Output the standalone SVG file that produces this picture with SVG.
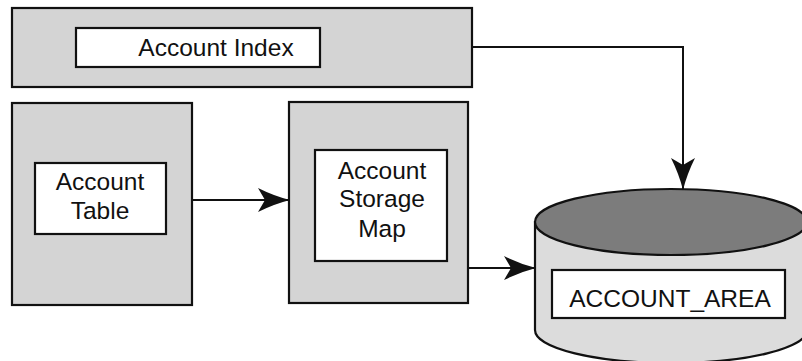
<svg xmlns="http://www.w3.org/2000/svg" width="802" height="361" viewBox="0 0 802 361">
  <style>
    .panel { fill: #d4d4d4; stroke: #111; stroke-width: 2.2; }
    .label { fill: #fff; stroke: #111; stroke-width: 2.2; }
    .txt { font-family: "Liberation Sans", Arial, sans-serif; font-size: 24.5px; fill: #111; text-anchor: middle; }
    .wire { fill: none; stroke: #111; stroke-width: 2; }
    .drum-side { fill: #dcdcdc; stroke: #111; stroke-width: 2.2; }
    .drum-top { fill: #7c7c7c; stroke: #111; stroke-width: 2.2; }
  </style>
  <defs>
    <!-- barbed arrowhead, tip at the path end -->
    <marker id="head" viewBox="0 0 32 24" refX="31" refY="12" markerWidth="32" markerHeight="24" markerUnits="userSpaceOnUse" orient="auto">
      <path d="M0,0 Q16,8 32,12 Q16,16 0,24 L7,12 Z" fill="#111"/>
    </marker>
  </defs>
  <rect width="802" height="361" fill="#fff"/>

  <g id="account-index">
    <rect class="panel" x="12" y="8" width="460" height="79"/>
    <rect class="label" x="76" y="28" width="244" height="39"/>
    <text class="txt" x="216" y="56">Account Index</text>
  </g>

  <g id="account-table">
    <rect class="panel" x="12" y="103" width="180" height="202"/>
    <rect class="label" x="35" y="163" width="131" height="71"/>
    <text class="txt" x="100" y="190">Account</text>
    <text class="txt" x="100" y="219">Table</text>
  </g>

  <g id="account-storage-map">
    <rect class="panel" x="289" y="102" width="179" height="201"/>
    <rect class="label" x="315" y="150" width="132" height="111"/>
    <text class="txt" x="382" y="179">Account</text>
    <text class="txt" x="382" y="207">Storage</text>
    <text class="txt" x="382" y="237">Map</text>
  </g>

  <g id="account-area">
    <path class="drum-side" d="M535,222 L535,330 A136,33 0 0 0 807,330 L807,222 Z"/>
    <ellipse class="drum-top" cx="671" cy="222" rx="136" ry="33"/>
    <rect class="label" x="552" y="270" width="233" height="48"/>
    <text class="txt" x="670" y="307">ACCOUNT_AREA</text>
  </g>

  <g id="connectors">
    <path class="wire" d="M472,47 L683,47 L683,189" marker-end="url(#head)"/>
    <path class="wire" d="M192,200 L289,200" marker-end="url(#head)"/>
    <path class="wire" d="M468,268 L535,268" marker-end="url(#head)"/>
  </g>
</svg>
